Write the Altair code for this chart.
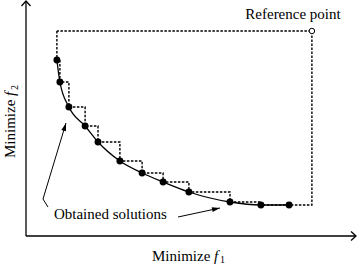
import math
import altair as alt
import pandas as pd

# Obtained solutions on the trade-off front (objective space)
f1 = [1.03, 1.13, 1.43, 1.97, 2.40, 3.13, 3.87, 4.57, 5.43, 6.80, 7.83, 8.77]
f2 = [8.80, 7.70, 6.45, 5.50, 4.70, 3.75, 3.15, 2.70, 2.20, 1.70, 1.55, 1.55]

# Reference point for the dominated region
ref_f1, ref_f2 = 9.53, 10.25

# Axis arrow ends
axis_f1_end, axis_f2_end = 11.0, 11.75

# Annotation geometry (objective-space coordinates)
label_ref = (8.90, 10.85)
label_sol = (0.93, 0.85)
leader_up = [(0.733, 1.45), (0.567, 1.85), (1.333, 5.65)]
leader_right = [(5.067, 0.95), (6.467, 1.40)]

W, H = 360, 264
X_DOMAIN = [-0.8667, 11.1333]
Y_DOMAIN = [-1.4, 11.8]
PX_X = W / (X_DOMAIN[1] - X_DOMAIN[0])
PX_Y = H / (Y_DOMAIN[1] - Y_DOMAIN[0])

FONT = "'Times New Roman', 'Liberation Serif', serif"

xs = alt.Scale(domain=X_DOMAIN, nice=False, zero=False)
ys = alt.Scale(domain=Y_DOMAIN, nice=False, zero=False)


def X(field="x"):
    return alt.X(f"{field}:Q", scale=xs, axis=None)


def Y(field="y"):
    return alt.Y(f"{field}:Q", scale=ys, axis=None)


def screen_angle(p, q):
    """Clockwise angle (degrees from 'up') of the segment p->q on screen."""
    dx = (q[0] - p[0]) * PX_X
    dy = (q[1] - p[1]) * PX_Y
    return math.degrees(math.atan2(dx, dy)) % 360


# Staircase boundary of the dominated region
stair = [(f1[0], ref_f2), (f1[0], f2[0])]
for i in range(1, len(f1)):
    stair.append((f1[i], f2[i - 1]))
    stair.append((f1[i], f2[i]))
stair += [(ref_f1, f2[-1]), (ref_f1, ref_f2), (f1[0], ref_f2)]
stair_df = pd.DataFrame({"x": [p[0] for p in stair], "y": [p[1] for p in stair],
                         "k": range(len(stair))})

sol_df = pd.DataFrame({"x": f1, "y": f2, "k": range(len(f1))})

axes_df = pd.DataFrame({
    "x": [0, 0], "y": [0, 0],
    "x2": [0, axis_f1_end], "y2": [axis_f2_end, 0],
})
axis_heads = pd.DataFrame({
    "x": [0, axis_f1_end], "y": [axis_f2_end, 0], "angle": [0, 90],
})

leaders = []
for gi, path in enumerate([leader_up, leader_right]):
    for k, (a, b) in enumerate(path):
        leaders.append({"x": a, "y": b, "g": gi, "k": k})
leader_df = pd.DataFrame(leaders)
heads_df = pd.DataFrame({
    "x": [leader_up[-1][0], leader_right[-1][0]],
    "y": [leader_up[-1][1], leader_right[-1][1]],
    "angle": [screen_angle(leader_up[-2], leader_up[-1]),
              screen_angle(leader_right[-2], leader_right[-1])],
})

CHEVRON = "M-1,1.1 L0,0 L1,1.1"
TRI = "M0,0 L-0.6,2 L0.6,2 Z"

axes = alt.Chart(axes_df).mark_rule(color="black", strokeWidth=1.3).encode(
    x=X(), y=Y(), x2="x2:Q", y2="y2:Q")
axis_arrows = alt.Chart(axis_heads).mark_point(
    shape=CHEVRON, filled=False, color="black", strokeWidth=1.3, size=81, opacity=1
).encode(x=X(), y=Y(), angle=alt.Angle("angle:Q", scale=None))

stairs = alt.Chart(stair_df).mark_line(
    color="black", strokeWidth=1.4, strokeDash=[2.5, 1.5]
).encode(x=X(), y=Y(), order="k:Q")

front = alt.Chart(sol_df).mark_line(
    color="black", strokeWidth=1.3, interpolate="monotone"
).encode(x=X(), y=Y(), order="k:Q")

dots = alt.Chart(sol_df).mark_circle(color="black", size=48, opacity=1).encode(
    x=X(), y=Y())

ref_dot = alt.Chart(pd.DataFrame({"x": [ref_f1], "y": [ref_f2]})).mark_point(
    shape="circle", filled=True, fill="white", stroke="black", strokeWidth=1,
    size=30, opacity=1
).encode(x=X(), y=Y())

leader_lines = alt.Chart(leader_df).mark_line(color="black", strokeWidth=1).encode(
    x=X(), y=Y(), detail="g:N", order="k:Q")
leader_heads = alt.Chart(heads_df).mark_point(
    shape=TRI, filled=True, color="black", size=64, opacity=1
).encode(x=X(), y=Y(), angle=alt.Angle("angle:Q", scale=None))

ref_label = alt.Chart(pd.DataFrame({"x": [label_ref[0]], "y": [label_ref[1]],
                                    "t": ["Reference point"]})).mark_text(
    font=FONT, fontSize=15, align="center", baseline="alphabetic", color="black"
).encode(x=X(), y=Y(), text="t:N")

sol_label = alt.Chart(pd.DataFrame({"x": [label_sol[0]], "y": [label_sol[1]],
                                    "t": ["Obtained solutions"]})).mark_text(
    font=FONT, fontSize=15, align="left", baseline="alphabetic", color="black"
).encode(x=X(), y=Y(), text="t:N")


def title_piece(text, px, py, size=15, style="normal", angle=0):
    return alt.Chart(pd.DataFrame({"t": [text]})).mark_text(
        font=FONT, fontSize=size, fontStyle=style, align="left",
        baseline="alphabetic", color="black", angle=angle
    ).encode(x=alt.value(px), y=alt.value(py), text="t:N")


x_title = (title_piece("Minimize", 152, 261)
           + title_piece("f", 214, 261, style="italic")
           + title_piece("1", 220, 263, size=10))
y_title = (title_piece("Minimize", 15, 158, angle=270)
           + title_piece("f", 15, 96, style="italic", angle=270)
           + title_piece("2", 18, 90, size=10, angle=270))

chart = alt.layer(
    axes, axis_arrows, stairs, front, dots, ref_dot,
    leader_lines, leader_heads, ref_label, sol_label, x_title, y_title
).properties(
    width=W, height=H, padding=0, autosize=alt.AutoSizeParams(type="none"),
    background="white"
).configure_view(stroke=None)

chart.save("out.html", embed_options={"renderer": "svg", "actions": False})
